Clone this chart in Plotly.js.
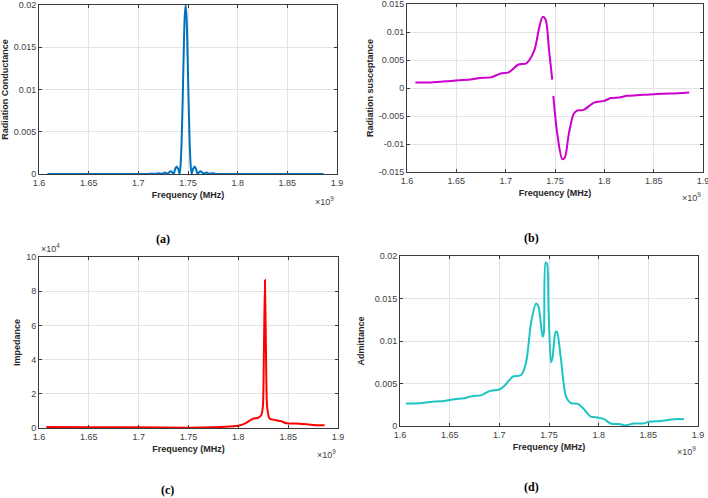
<!DOCTYPE html>
<html><head><meta charset="utf-8">
<script src="https://cdn.plot.ly/plotly-3.0.1.min.js"></script>
<style>html,body{margin:0;padding:0;background:#fff}#p{width:708px;height:498px}</style>
</head><body><div id="p"></div>
<script>
// Frequency in units of 1e9 Hz
const condFreq = [1.6085,1.65,1.70,1.710,1.7146,1.7176,1.7206,1.7236,1.7266,1.7281,1.7296,1.7311,1.7326,1.7341,1.7356,1.7371,1.7386,1.7401,1.7416,1.7426,1.7436,1.7446,1.7456,1.7466,1.7476,1.7486,1.7496,1.7506,1.7516,1.7526,1.7536,1.7551,1.7566,1.7581,1.7596,1.7611,1.7626,1.7641,1.7656,1.7671,1.7686,1.7716,1.7746,1.7776,1.79,1.85,1.8865];
const condVal  = [0,0,0,0.00001,0.00004,0.00001,0.0001,0.00001,0.00018,0.0001,0.00001,0.0002,0.00032,0.0002,0.00001,0.0006,0.0009,0.0006,0.00001,0.0012,0.0040,0.0085,0.0140,0.0184,0.0200,0.0184,0.0140,0.0085,0.0040,0.0012,0.00001,0.0006,0.0009,0.0006,0.00001,0.0002,0.00032,0.0002,0.00001,0.0001,0.00018,0.00001,0.0001,0.00001,0,0,0];

const suscFreq = [1.6085,1.624,1.647,1.664,1.674,1.685,1.695,1.703,1.713,1.721,1.729,1.734,1.7375,1.7405,1.744,1.7472,null,1.7483,1.7523,1.7574,1.760,1.764,1.769,1.773,1.779,1.7896,1.800,1.8065,1.815,1.823,1.8335,1.850,1.867,1.886];
const suscVal  = [0.0010,0.0010,0.0013,0.0015,0.0018,0.0019,0.0026,0.0028,0.0042,0.0044,0.0067,0.0108,0.0127,0.0122,0.0067,0.0015,null,-0.0014,-0.0082,-0.0127,-0.0124,-0.0082,-0.0046,-0.0040,-0.0039,-0.0026,-0.0023,-0.0018,-0.0017,-0.0014,-0.0013,-0.0011,-0.0010,-0.0008];

// Impedance in units of 1e4 ohm
const impFreq = [1.6074,1.65,1.70,1.75,1.775,1.795,1.801,1.808,1.8147,1.8197,1.823,1.8247,1.8257,1.8267,1.8277,1.8288,1.8314,1.838,1.843,1.848,1.8615,1.875,1.8866];
const impVal  = [0.06,0.05,0.04,0.02,0.04,0.10,0.15,0.30,0.55,0.60,0.75,1.30,4.60,8.65,4.60,1.30,0.55,0.45,0.40,0.28,0.25,0.18,0.16];

const admFreq = [1.606,1.6195,1.635,1.645,1.6547,1.665,1.673,1.6815,1.690,1.700,1.705,1.7135,1.722,1.727,1.732,1.737,1.7395,1.7435,1.7448,1.7465,1.748,1.7495,1.752,1.7535,1.7565,1.758,1.762,1.767,1.772,1.779,1.785,1.792,1.799,1.8055,1.812,1.822,1.827,1.8355,1.8455,1.8505,1.8625,1.876,1.886];
const admVal  = [0.00264,0.00268,0.00287,0.00295,0.00315,0.00327,0.00354,0.00360,0.00410,0.00430,0.00470,0.00580,0.00600,0.00750,0.01220,0.01440,0.01400,0.01050,0.01100,0.01920,0.01910,0.01400,0.00750,0.00800,0.01100,0.01110,0.00790,0.00350,0.00270,0.00260,0.00200,0.00110,0.00100,0.00080,0.00030,0.00020,0.00008,0.00030,0.00030,0.00050,0.00060,0.00080,0.00080];

const xTicks = [1.6,1.65,1.7,1.75,1.8,1.85,1.9];
const condTicks = [0,0.005,0.01,0.015,0.02];
const suscTicks = [-0.015,-0.01,-0.005,0,0.005,0.01,0.015];
const impTicks = [0,2,4,6,8,10];
const admTicks = [0,0.005,0.01,0.015,0.02];

const xTitle = 'Frequency (MHz)';
const yTitles = ['Radiation Conductance','Radiation susceptance','Impedance','Admittance'];
const panelLabels = ['(a)','(b)','(c)','(d)'];

const W = 708, H = 498;
const fx = v => v / W, fy = v => 1 - v / H;
const tickFont = {family:'Liberation Sans, Arial, sans-serif', size:9, color:'#404040'};
const titleFont = {family:'Liberation Sans, Arial, sans-serif', size:9, color:'#262626', weight:'bold'};

function xa(l, r, anchor){
  return {domain:[fx(l), fx(r)], anchor:anchor, range:[1.6,1.9], tickvals:xTicks, ticktext:xTicks.map(String),
    showgrid:true, gridcolor:'#e3e3e3', gridwidth:1, zeroline:false, showline:true, linecolor:'#3a3a3a', linewidth:1,
    mirror:'ticks', ticks:'inside', ticklen:3, tickcolor:'#3a3a3a', tickfont:tickFont, ticklabeloverflow:'allow',
    title:{text:'<b>'+xTitle+'</b>', font:titleFont, standoff:4}};
}
function ya(b, t, anchor, range, ticks, title, standoff){
  return {domain:[fy(b), fy(t)], anchor:anchor, range:range, tickvals:ticks, ticktext:ticks.map(String),
    showgrid:true, gridcolor:'#e3e3e3', gridwidth:1, zeroline:false, showline:true, linecolor:'#3a3a3a', linewidth:1,
    mirror:'ticks', ticks:'inside', ticklen:3, tickcolor:'#3a3a3a', tickfont:tickFont, ticklabeloverflow:'allow',
    title:{text:'<b>'+title+'</b>', font:titleFont, standoff:standoff}};
}

const traces = [
  {x:condFreq, y:condVal, xaxis:'x', yaxis:'y', mode:'lines', line:{color:'#0072BD', width:2, shape:'spline', smoothing:0.6}},
  {x:suscFreq, y:suscVal, xaxis:'x2', yaxis:'y2', mode:'lines', connectgaps:false, line:{color:'#CC00CC', width:2, shape:'spline', smoothing:0.8}},
  {x:impFreq, y:impVal, xaxis:'x3', yaxis:'y3', mode:'lines', line:{color:'#FF0000', width:2, shape:'spline', smoothing:0.5}},
  {x:admFreq, y:admVal, xaxis:'x4', yaxis:'y4', mode:'lines', line:{color:'#1CC4C4', width:2, shape:'spline', smoothing:0.7}}
];

const annFont = {family:'Liberation Sans, Arial, sans-serif', size:9, color:'#404040'};
const labFont = {family:'Liberation Serif, Times New Roman, serif', size:12, color:'#000', weight:'bold'};
const annotations = [
  {xref:'paper', yref:'paper', x:fx(336), y:fy(193), xanchor:'right', yanchor:'top', text:'×10<sup>9</sup>', showarrow:false, font:annFont},
  {xref:'paper', yref:'paper', x:fx(703), y:fy(189), xanchor:'right', yanchor:'top', text:'×10<sup>9</sup>', showarrow:false, font:annFont},
  {xref:'paper', yref:'paper', x:fx(338), y:fy(446), xanchor:'right', yanchor:'top', text:'×10<sup>9</sup>', showarrow:false, font:annFont},
  {xref:'paper', yref:'paper', x:fx(698), y:fy(443), xanchor:'right', yanchor:'top', text:'×10<sup>9</sup>', showarrow:false, font:annFont},
  {xref:'paper', yref:'paper', x:fx(39), y:fy(256), xanchor:'left', yanchor:'bottom', text:'×10<sup>4</sup>', showarrow:false, font:annFont},
  {xref:'paper', yref:'paper', x:fx(163), y:fy(239), xanchor:'center', yanchor:'middle', text:'<b>'+panelLabels[0]+'</b>', showarrow:false, font:labFont},
  {xref:'paper', yref:'paper', x:fx(531), y:fy(238), xanchor:'center', yanchor:'middle', text:'<b>'+panelLabels[1]+'</b>', showarrow:false, font:labFont},
  {xref:'paper', yref:'paper', x:fx(167), y:fy(490), xanchor:'center', yanchor:'middle', text:'<b>'+panelLabels[2]+'</b>', showarrow:false, font:labFont},
  {xref:'paper', yref:'paper', x:fx(531), y:fy(487), xanchor:'center', yanchor:'middle', text:'<b>'+panelLabels[3]+'</b>', showarrow:false, font:labFont}
];

const layout = {
  width:W, height:H, margin:{l:0,r:0,t:0,b:0}, paper_bgcolor:'#fff', plot_bgcolor:'#fff', showlegend:false,
  xaxis: xa(39, 337, 'y'),
  yaxis: ya(174, 5, 'x', [0,0.02], condTicks, yTitles[0], 3),
  xaxis2: xa(407, 703, 'y2'),
  yaxis2: ya(172, 4, 'x2', [-0.015,0.015], suscTicks, yTitles[1], 3),
  xaxis3: xa(39, 338, 'y3'),
  yaxis3: ya(428, 257, 'x3', [0,10], impTicks, yTitles[2], 4),
  xaxis4: xa(400, 698, 'y4'),
  yaxis4: ya(426, 256, 'x4', [0,0.02], admTicks, yTitles[3], 8),
  annotations: annotations
};
Plotly.newPlot('p', traces, layout, {staticPlot:true, displayModeBar:false});
</script></body></html>
